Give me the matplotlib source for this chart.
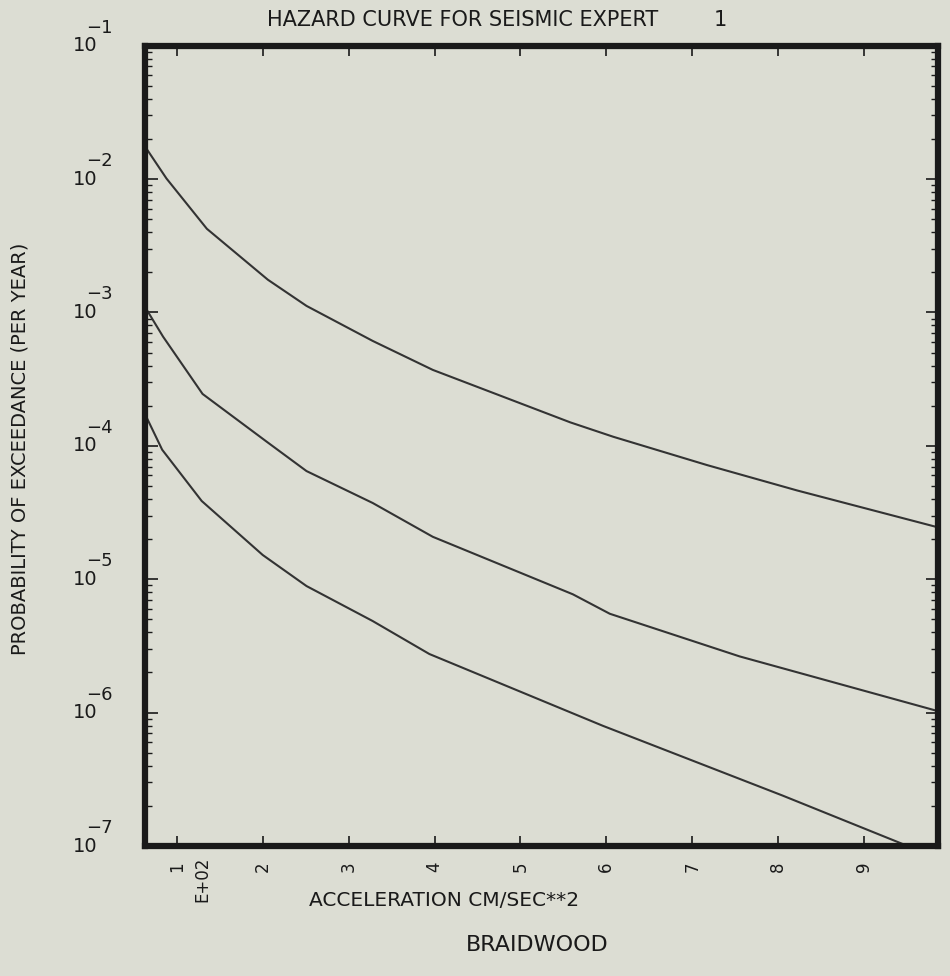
import numpy as np
import matplotlib
matplotlib.use("Agg")
import matplotlib.pyplot as plt
from matplotlib.ticker import LogLocator, NullFormatter

# Acceleration in units of 1E+02 cm/s^2
top_x = [0.65, 0.88, 1.35, 2.06, 2.51, 3.28, 3.98, 5.58, 6.08, 7.17, 8.22, 9.88]
top_y = [1.68e-2, 1.01e-2, 4.24e-3, 1.76e-3, 1.12e-3, 6.12e-4, 3.71e-4, 1.50e-4,
         1.17e-4, 7.18e-5, 4.63e-5, 2.43e-5]

mid_x = [0.63, 0.84, 1.30, 2.05, 2.51, 3.28, 3.98, 5.61, 6.04, 7.55, 9.85]
mid_y = [1.10e-3, 6.59e-4, 2.45e-4, 1.07e-4, 6.47e-5, 3.73e-5, 2.08e-5, 7.71e-6,
         5.51e-6, 2.64e-6, 1.03e-6]

low_x = [0.63, 0.83, 1.29, 2.00, 2.51, 3.28, 3.94, 5.96, 8.05, 9.49]
low_y = [1.73e-4, 9.35e-5, 3.86e-5, 1.52e-5, 8.89e-6, 4.86e-6, 2.75e-6, 7.96e-7,
         2.39e-7, 1.01e-7]

x_ticks = [1, 2, 3, 4, 5, 6, 7, 8, 9]
x_ticklabels = ["1", "2", "3", "4", "5", "6", "7", "8", "9"]
y_decades = [1e-1, 1e-2, 1e-3, 1e-4, 1e-5, 1e-6, 1e-7]
y_exponents = ["\u22121", "\u22122", "\u22123", "\u22124", "\u22125", "\u22126", "\u22127"]

title = "HAZARD CURVE FOR SEISMIC EXPERT"
expert_no = "1"
xlabel = "ACCELERATION CM/SEC**2"
ylabel = "PROBABILITY OF EXCEEDANCE (PER YEAR)"
site = "BRAIDWOOD"

bg = "#dcddd3"
ink = "#1a1a1a"
curve_col = "#333333"
plt.rcParams['font.family'] = ['DejaVu Sans']

fig = plt.figure(figsize=(9.5, 9.76), dpi=100, facecolor=bg)
ax = fig.add_axes([145/950, 1-846/976, (938-145)/950, (846-45.7)/976])
ax.set_facecolor(bg)

for xs, ys in [(top_x, top_y), (mid_x, mid_y), (low_x, low_y)]:
    ax.plot(xs, ys, color=curve_col, lw=1.5, solid_joinstyle='miter')

ax.set_yscale('log')
ax.set_xlim(0.63, 9.86)
ax.set_ylim(1e-7, 1e-1)

for s in ax.spines.values():
    s.set_linewidth(4.5)
    s.set_color(ink)

ax.set_xticks(x_ticks)
ax.set_xticklabels(x_ticklabels, rotation=90, fontsize=12, va='top')
ax.tick_params(axis='x', which='both', direction='in', length=7, width=1.2,
               top=True, bottom=True, pad=11, colors=ink)
ax.tick_params(axis='x', which='minor', length=0)

ax.yaxis.set_major_locator(LogLocator(base=10, numticks=10))
ax.yaxis.set_minor_locator(LogLocator(base=10, subs=np.arange(2, 10), numticks=20))
ax.yaxis.set_major_formatter(NullFormatter())
ax.yaxis.set_minor_formatter(NullFormatter())
ax.tick_params(axis='y', which='major', direction='in', length=9, width=1.2,
               left=True, right=True, colors=ink)
ax.tick_params(axis='y', which='minor', direction='in', length=5, width=1.0,
               left=True, right=True, colors=ink)

ytr = ax.get_yaxis_transform()
for v, e in zip(y_decades, y_exponents):
    ax.annotate("10", xy=(0, v), xycoords=ytr, xytext=(-60*0.72, 0),
                textcoords='offset points', ha='center', va='center',
                fontsize=14, color=ink, annotation_clip=False)
    ax.annotate(e, xy=(0, v), xycoords=ytr, xytext=(-59*0.72, 18*0.72),
                textcoords='offset points', ha='left', va='center',
                fontsize=13, color=ink, annotation_clip=False)

xtr = ax.get_xaxis_transform()
ax.annotate("E+02", xy=(1.30, 0), xycoords=xtr, xytext=(0, -11*0.72),
            textcoords='offset points', ha='center', va='top', rotation=90,
            fontsize=12, color=ink, annotation_clip=False)

fig.text(463/950, 1-20/976, title, ha='center', va='center', fontsize=15, color=ink)
fig.text(720/950, 1-20/976, expert_no, ha='center', va='center', fontsize=15, color=ink)
fig.text(444/950, 1-900/976, xlabel, ha='center', va='center', fontsize=14.5, color=ink)
fig.text(20/950, 1-449/976, ylabel, ha='center', va='center', rotation=90,
         fontsize=14, color=ink)
fig.text(537/950, 1-945/976, site, ha='center', va='center', fontsize=16, color=ink)

fig.savefig("out.png", dpi=100, facecolor=bg)
